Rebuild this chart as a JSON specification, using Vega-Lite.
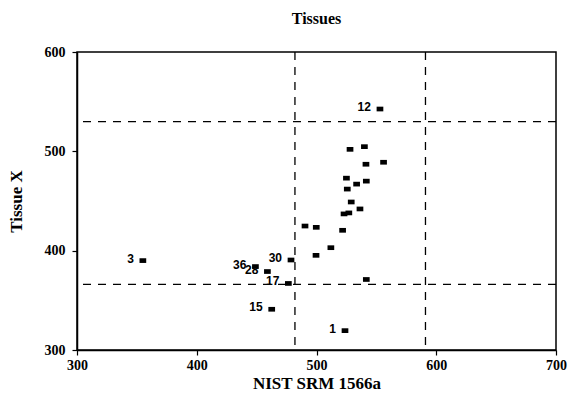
{
  "$schema": "https://vega.github.io/schema/vega-lite/v6.json",
  "width": 479,
  "height": 298,
  "autosize": "none",
  "padding": {"left": 77, "top": 52, "right": 12, "bottom": 48},
  "background": "white",
  "title": {"text": "Tissues", "font": "Liberation Serif", "fontSize": 16, "fontWeight": "bold", "color": "black", "anchor": "middle", "offset": 18},
  "datasets": {
    "points": [
      {"x": 523.8, "y": 319.5, "label": "1"},
      {"x": 355, "y": 390, "label": "3"},
      {"x": 553, "y": 542.6, "label": "12"},
      {"x": 462.6, "y": 341, "label": "15"},
      {"x": 476.5, "y": 367, "label": "17"},
      {"x": 459, "y": 379, "label": "28"},
      {"x": 478.7, "y": 390.6, "label": "30"},
      {"x": 449, "y": 384, "label": "36"},
      {"x": 528, "y": 502, "label": ""},
      {"x": 540, "y": 504.7, "label": ""},
      {"x": 541.3, "y": 487, "label": ""},
      {"x": 556, "y": 489, "label": ""},
      {"x": 525, "y": 473, "label": ""},
      {"x": 525.7, "y": 462, "label": ""},
      {"x": 533.5, "y": 467, "label": ""},
      {"x": 541.6, "y": 470, "label": ""},
      {"x": 529, "y": 449, "label": ""},
      {"x": 536.3, "y": 442, "label": ""},
      {"x": 523, "y": 437, "label": ""},
      {"x": 527, "y": 438, "label": ""},
      {"x": 490.4, "y": 424.8, "label": ""},
      {"x": 499.8, "y": 423.5, "label": ""},
      {"x": 521.8, "y": 420.5, "label": ""},
      {"x": 512, "y": 403, "label": ""},
      {"x": 499.6, "y": 395.3, "label": ""},
      {"x": 541.6, "y": 371, "label": ""}
    ],
    "vlines": [{"x": 482}, {"x": 591}],
    "hlines": [{"y": 530}, {"y": 366}]
  },
  "layer": [
    {
      "data": {"name": "points"},
      "mark": {"type": "point", "shape": "M-1,-0.7H1V0.7H-1Z", "filled": true, "color": "black", "opacity": 1, "size": 45},
      "encoding": {
        "x": {
          "field": "x", "type": "quantitative",
          "scale": {"domain": [300, 700], "nice": false, "zero": false},
          "axis": {
            "title": "NIST SRM 1566a",
            "values": [300, 400, 500, 600, 700],
            "format": "d",
            "tickSize": 5,
            "labelOverlap": false,
            "labelPadding": 3,
            "titlePadding": 3
          }
        },
        "y": {
          "field": "y", "type": "quantitative",
          "scale": {"domain": [300, 600], "nice": false, "zero": false},
          "axis": {
            "title": "Tissue X",
            "values": [300, 400, 500, 600],
            "format": "d",
            "tickSize": 5,
            "labelOverlap": false,
            "labelPadding": 7,
            "titlePadding": 19
          }
        }
      }
    },
    {
      "data": {"name": "vlines"},
      "mark": {"type": "rule", "color": "black", "strokeWidth": 1.3, "strokeDash": [8, 7]},
      "encoding": {"x": {"field": "x", "type": "quantitative"}}
    },
    {
      "data": {"name": "hlines"},
      "mark": {"type": "rule", "color": "black", "strokeWidth": 1.3, "strokeDash": [8, 7]},
      "encoding": {"y": {"field": "y", "type": "quantitative"}}
    },
    {
      "data": {"name": "points"},
      "mark": {"type": "text", "align": "right", "baseline": "middle", "dx": -9, "dy": -2, "font": "Liberation Sans", "fontWeight": "bold", "fontSize": 12, "color": "black"},
      "encoding": {
        "x": {"field": "x", "type": "quantitative"},
        "y": {"field": "y", "type": "quantitative"},
        "text": {"field": "label"}
      }
    }
  ],
  "config": {
    "view": {"stroke": "black", "strokeWidth": 1.5},
    "axis": {
      "grid": false,
      "domainColor": "black",
      "domainWidth": 1.5,
      "tickColor": "black",
      "tickWidth": 1.2,
      "labelFont": "Liberation Serif",
      "labelFontWeight": "bold",
      "labelFontSize": 14,
      "labelColor": "black",
      "labelFlush": false,
      "labelOverlap": false,
      "titleFont": "Liberation Serif",
      "titleFontWeight": "bold",
      "titleFontSize": 17,
      "titleColor": "black"
    }
  }
}
